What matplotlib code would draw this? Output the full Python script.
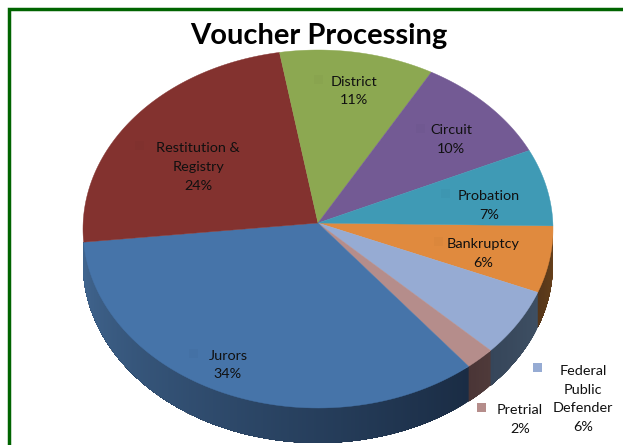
import numpy as np
import matplotlib
matplotlib.use('Agg')
import matplotlib.pyplot as plt
from matplotlib.colors import to_rgb
from matplotlib.patches import Rectangle

# clockwise from the 3 o'clock position
names = ['Bankruptcy', 'Federal Public Defender', 'Pretrial', 'Jurors',
         'Restitution & Registry', 'District', 'Circuit', 'Probation']
values = [6, 6, 2, 34, 24, 11, 10, 7]
face_colors = ['#e08a3e', '#96abd3', '#b58d8b', '#4674a9',
               '#83322f', '#8ca851', '#735a94', '#3f9ab5']
# wall colours, (right end, left end); only the front wedges have a wall
wall_colors = {'Bankruptcy': ('#6b431b', '#55361a'),
               'Federal Public Defender': ('#3e4f63', '#36465a'),
               'Pretrial': ('#4f3a3a', '#4a3536'),
               'Jurors': ('#1a2c44', '#416690')}

labels = ['Bankruptcy\n6%', 'Federal\nPublic\nDefender\n6%', 'Pretrial\n2%', 'Jurors\n34%',
          'Restitution &\nRegistry\n24%', 'District\n11%', 'Circuit\n10%', 'Probation\n7%']
label_x = [483, 583, 520, 228, 198, 354, 451, 489]
label_y = [253.5, 399, 419.5, 365, 167, 91, 139.5, 205.5]
key_x = [438, 537, 481, 193, 139, 318, 420, 445]
key_y = [241, 367, 407, 353, 145, 79, 128, 193]

# ellipse in image pixels
cx, cy, rx, ry = 318, 229, 235, 179
apex_y = 223
depth = 35
start = -1
warp = 4  # the 3d view pushes the far wedges round a little


def arc(t1, t2, n=80):
    t = np.radians(np.linspace(t1, t2, n))
    return cx + rx * np.cos(t), cy + ry * np.sin(t)


fig = plt.figure(figsize=(6.23, 4.45), dpi=100)
ax = fig.add_axes([0, 0, 1, 1])
ax.set_xlim(0, 623)
ax.set_ylim(445, 0)
ax.axis('off')

edges = np.concatenate([[0], np.cumsum(values)]) * 3.6
edges = start + edges + warp * np.sin(np.radians(edges / 2)) ** 2

# walls first, each strip runs on to the wedge end so no seams show
for i, name in enumerate(names):
    if name not in wall_colors:
        continue
    c1, c2 = [np.array(to_rgb(c)) for c in wall_colors[name]]
    steps = max(4, int(edges[i + 1] - edges[i]) * 2)
    ts = np.linspace(edges[i], edges[i + 1], steps + 1)
    for k in range(steps):
        x, y = arc(max(ts[k], 0), edges[i + 1], 40)
        col = c1 + (c2 - c1) * k / steps
        ax.fill(np.r_[x, x[::-1]], np.r_[y, y[::-1] + depth], color=col, lw=0)

# top faces
for i, name in enumerate(names):
    x, y = arc(edges[i], edges[i + 1])
    ax.fill(np.r_[cx, x], np.r_[apex_y, y], color=face_colors[i], lw=0.3)

# little legend keys next to the labels
for i, name in enumerate(names):
    if name in ('Federal Public Defender', 'Pretrial'):
        key = face_colors[i]
        alpha = 1
    else:
        key = '#000000'
        alpha = 0.02
    ax.add_patch(Rectangle((key_x[i] - 4, key_y[i] - 4), 9, 9, color=key, alpha=alpha, lw=0))

for i in range(len(names)):
    ax.text(label_x[i], label_y[i], labels[i], ha='center', va='center', fontsize=10.4,
            family='Lato', color='#101010', linespacing=1.67)

ax.text(319, 36, 'Voucher Processing', ha='center', va='center', fontsize=21,
        family='Lato', fontweight='bold', color='black')

# green frame, left and top only
ax.plot([9.2, 9.2, 623], [445, 9.2, 9.2], color='#006400', lw=2.5, solid_joinstyle='miter')

fig.savefig('out.png', dpi=100)
